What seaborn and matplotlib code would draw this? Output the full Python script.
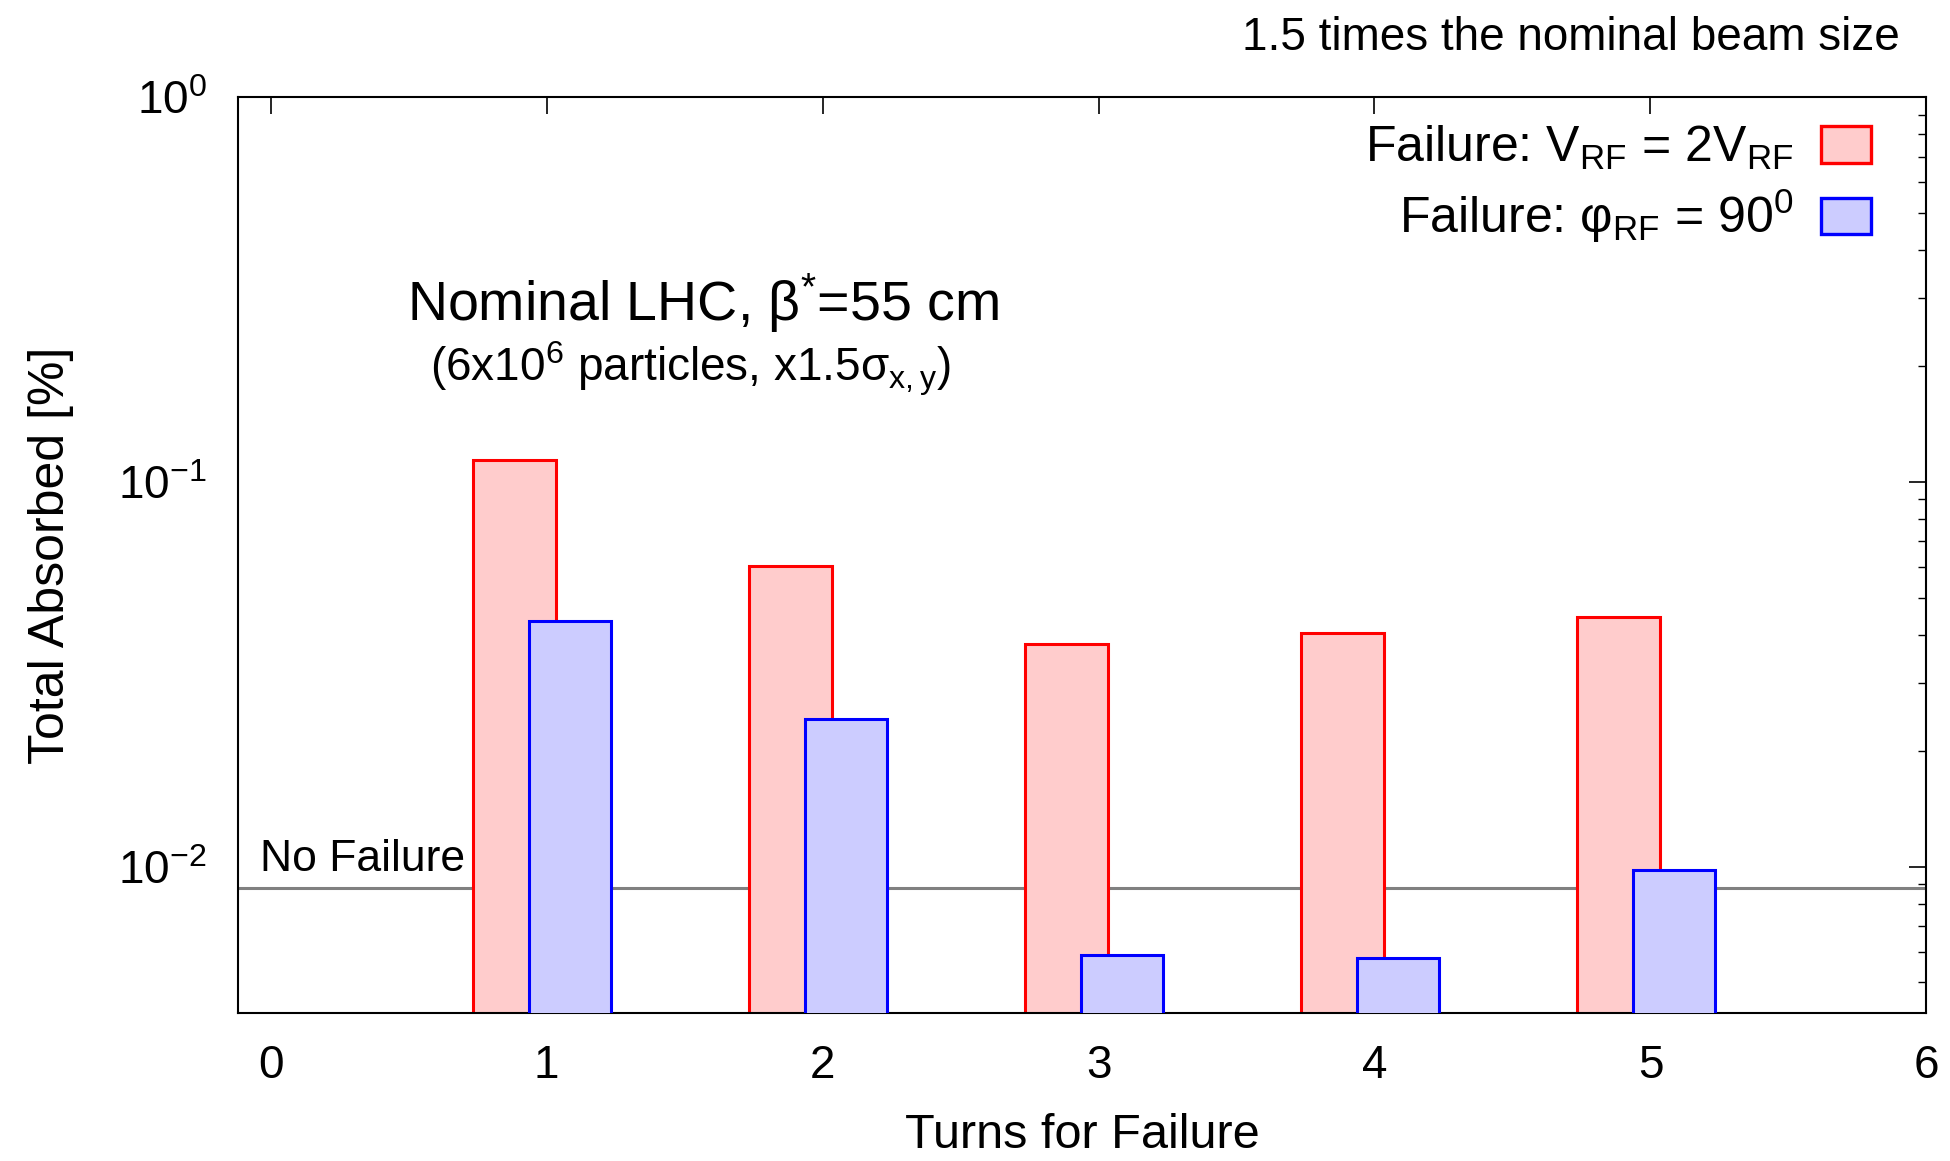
import numpy as np
import pandas as pd
import matplotlib
matplotlib.use("Agg")
import matplotlib.pyplot as plt
import seaborn as sns
from matplotlib.patches import Patch
from matplotlib.ticker import LogLocator, NullLocator, NullFormatter

# ---- data ----
turns = [1, 2, 3, 4, 5]
absorbed_vrf = [0.114, 0.0603, 0.0378, 0.0404, 0.0445]
absorbed_phi = [0.0435, 0.0242, 0.0059, 0.0058, 0.0098]
no_failure_level = 0.0088
series_labels = [r"Failure: V$_{\mathrm{RF}}$ = 2V$_{\mathrm{RF}}$",
                 r"Failure: φ$_{\mathrm{RF}}$ = 90$^{0}$"]
x_ticks = [0, 1, 2, 3, 4, 5, 6]
x_label = "Turns for Failure"
y_label = "Total Absorbed [%]"
title_text = "1.5 times the nominal beam size"
note_line1 = r"Nominal LHC, β$^{*}$=55 cm"
note_line2 = r"(6x10$^{6}$ particles, x1.5σ$_{\mathrm{x,y}}$)"
no_failure_text = "No Failure"

sns.set_theme(style="white")
plt.rcParams["font.family"] = ["Liberation Sans", "DejaVu Sans"]
plt.rcParams["mathtext.fontset"] = "custom"
plt.rcParams["mathtext.rm"] = "Liberation Sans"
plt.rcParams["mathtext.it"] = "Liberation Sans:italic"
plt.rcParams["mathtext.bf"] = "Liberation Sans:bold"
plt.rcParams["mathtext.sf"] = "Liberation Sans"
plt.rcParams["axes.unicode_minus"] = False
for k in ["text.color", "axes.labelcolor", "xtick.color", "ytick.color", "axes.edgecolor"]:
    plt.rcParams[k] = "black"

fig = plt.figure(figsize=(19.5, 11.61), dpi=100)
ax = fig.add_axes([0.1218, 0.1274, 0.8661, 0.7891])

df = pd.DataFrame({"turn": turns, "vrf": absorbed_vrf, "phi": absorbed_phi})

red_fill, red_edge = "#FFCCCC", "#FF0000"
blue_fill, blue_edge = "#CCCCFF", "#0000FF"

ax.axhline(no_failure_level, color="#808080", lw=2.2, zorder=1)

sns.barplot(x=df["turn"] - 0.115, y=df["vrf"], native_scale=True, width=0.3,
            color=red_fill, edgecolor=red_edge, linewidth=2.2, saturation=1,
            errorbar=None, ax=ax, zorder=2)
sns.barplot(x=df["turn"] + 0.085, y=df["phi"], native_scale=True, width=0.3,
            color=blue_fill, edgecolor=blue_edge, linewidth=2.2, saturation=1,
            errorbar=None, ax=ax, zorder=3)

ax.set_yscale("log")
ax.set_ylim(0.00416, 1.0)
ax.set_xlim(-0.12, 6)
ax.set_xticks(x_ticks)
ax.set_xticklabels([str(t) for t in x_ticks])
ax.xaxis.set_minor_locator(NullLocator())
ax.yaxis.set_major_locator(LogLocator(base=10, numticks=10))
ax.yaxis.set_minor_locator(LogLocator(base=10, subs=np.arange(2, 10), numticks=20))
ax.yaxis.set_minor_formatter(NullFormatter())

for s in ax.spines.values():
    s.set_color("black")
    s.set_linewidth(1.5)

ax.tick_params(which="both", direction="in", top=True, right=True, color="black")
ax.tick_params(which="major", length=12, width=1.2, labelsize=33)
ax.tick_params(which="minor", length=6, width=1.0)
ax.tick_params(axis="x", which="major", pad=22)
ax.tick_params(axis="y", which="major", pad=22)

ax.set_xlabel(x_label, fontsize=35, labelpad=18)
ax.set_ylabel(y_label, fontsize=36, labelpad=32)

handles = [Patch(facecolor=red_fill, edgecolor=red_edge, linewidth=2.4),
           Patch(facecolor=blue_fill, edgecolor=blue_edge, linewidth=2.4)]
ax.legend(handles, series_labels, loc="upper right", frameon=False, fontsize=36,
          markerfirst=False, handlelength=1.0, handleheight=0.75,
          handletextpad=0.55, labelspacing=0.3, borderaxespad=0.2,
          bbox_to_anchor=(0.985, 1.003))

ax.text(1.565, 0.262, note_line1, fontsize=40, ha="center", va="baseline")
ax.text(1.52, 0.182, note_line2, fontsize=33, ha="center", va="baseline")
ax.text(-0.04, 0.0092, no_failure_text, fontsize=32, ha="left", va="bottom")

fig.text(0.974, 0.957, title_text, fontsize=33, ha="right", va="baseline")

fig.savefig("out.png", dpi=100)
